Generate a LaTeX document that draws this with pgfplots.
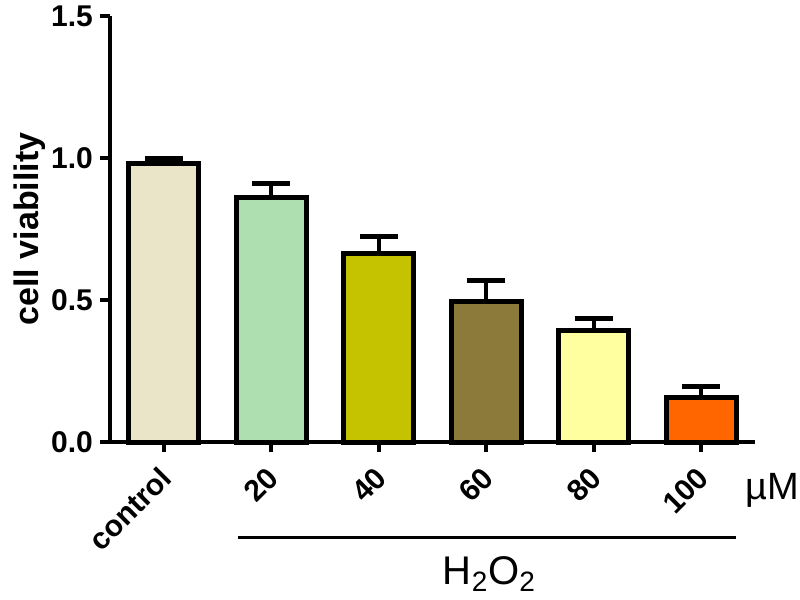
\documentclass[border=0pt]{standalone}
\usepackage{fontspec}
\setmainfont{Liberation Sans}
\usepackage{pgfplots}
\pgfplotsset{compat=1.18}

\definecolor{cctrl}{RGB}{234,228,200}
\definecolor{c20}{RGB}{174,223,176}
\definecolor{c40}{RGB}{197,194,0}
\definecolor{c60}{RGB}{139,122,58}
\definecolor{c80}{RGB}{255,255,160}
\definecolor{c100}{RGB}{255,102,0}

\begin{document}
\begin{tikzpicture}
\useasboundingbox (-55pt,-79pt) rectangle (345pt,221pt);
\begin{axis}[
  at={(0,0)}, anchor=south west,
  scale only axis,
  width=322.5pt, height=213pt,
  xmin=-0.5, xmax=5.5,
  ymin=0, ymax=1.5,
  axis lines=left,
  axis line style={-, line width=2pt},
  ytick={0,0.5,1.0,1.5},
  yticklabel style={/pgf/number format/.cd, fixed, fixed zerofill, precision=1, assume math mode=true},
  xtick={0,1,2,3,4,5},
  xticklabels={control,20,40,60,80,100},
  tick align=outside,
  major tick length=5pt,
  tick style={line width=1.8pt, black},
  ticklabel style={font=\bfseries\fontsize{15}{15}\selectfont},
  x tick label style={xshift=3.5pt, yshift=-8pt, rotate=45, anchor=east},
  ylabel={\bfseries cell viability},
  ylabel style={font=\fontsize{17}{17}\selectfont, at={(axis description cs:-0.124,0.5)}, anchor=center},
  ybar, bar width=35pt, bar shift=0pt,
  clip=false,
  every axis plot/.append style={draw=black, line width=2.5pt},
  error bars/y dir=plus,
  error bars/y explicit,
  error bars/error mark=|,
  error bars/error bar style={line width=2pt, black},
  error bars/error mark options={line width=2.5pt, mark size=9.5pt, black},
]
\addplot[fill=cctrl] coordinates {(0,0.98) +- (0,0.02)};
\addplot[fill=c20] coordinates {(1,0.86) +- (0,0.05)};
\addplot[fill=c40] coordinates {(2,0.665) +- (0,0.06)};
\addplot[fill=c60] coordinates {(3,0.494) +- (0,0.076)};
\addplot[fill=c80] coordinates {(4,0.392) +- (0,0.043)};
\addplot[fill=c100] coordinates {(5,0.157) +- (0,0.038)};
\draw[line width=1.5pt] (axis cs:0.69,-0.338) -- (axis cs:5.32,-0.338);
\node[font=\fontsize{20}{20}\selectfont] at (axis cs:3.03,-0.465) {H\textsubscript{2}O\textsubscript{2}};
\node[font=\fontsize{19}{19}\selectfont] at (axis cs:5.66,-0.17) {µM};
\end{axis}
\end{tikzpicture}
\end{document}
